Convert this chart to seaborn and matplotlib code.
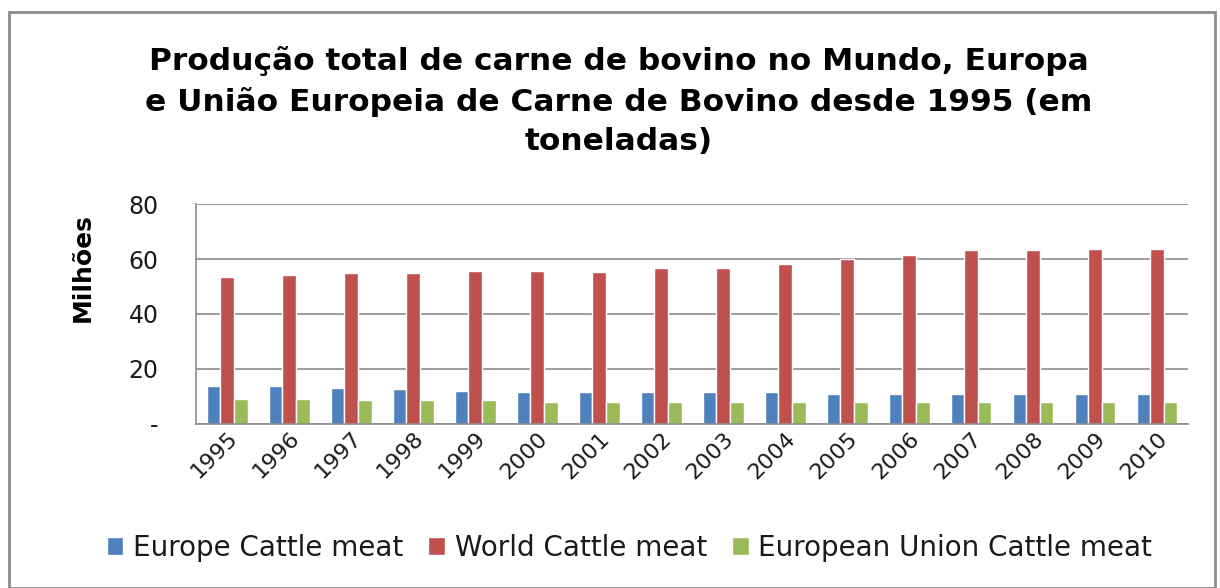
import matplotlib
matplotlib.use("Agg")
import matplotlib.pyplot as plt
import pandas as pd
import seaborn as sns
from matplotlib.patches import Rectangle

years = [str(y) for y in range(1995, 2011)]
europe = [13.7, 13.7, 13.1, 12.6, 12.0, 11.5, 11.5, 11.5, 11.5, 11.5, 10.9, 10.9, 10.9, 10.9, 10.9, 10.9]
world = [53.5, 54.3, 54.8, 54.8, 55.8, 55.8, 55.4, 56.9, 56.9, 58.1, 60.0, 61.6, 63.2, 63.2, 63.8, 63.8]
eu = [9.2, 9.2, 8.6, 8.6, 8.6, 8.0, 8.0, 8.0, 7.9, 7.9, 7.9, 7.9, 7.9, 7.9, 7.9, 7.9]
series = ["Europe Cattle meat", "World Cattle meat", "European Union Cattle meat"]
colors = ["#4F81BD", "#C0504D", "#9BBB59"]

df = pd.DataFrame({
    "Ano": years * 3,
    "Valor": europe + world + eu,
    "Serie": [series[0]] * 16 + [series[1]] * 16 + [series[2]] * 16,
})

sns.set_style("white")
plt.rcParams["font.family"] = ["DejaVu Sans"]

fig = plt.figure(figsize=(12.2, 5.88), dpi=100)
ax = fig.add_axes([0.1607, 0.279, 0.8131, 0.374])

sns.barplot(data=df, x="Ano", y="Valor", hue="Serie", palette=colors,
            width=0.66, gap=0, saturation=1, ax=ax, legend=True)

ax.set_ylim(0, 80)
ax.set_yticks([0, 20, 40, 60, 80])
ax.set_yticklabels(["-", "20", "40", "60", "80"], fontsize=17, color="#1a1a1a")
ax.set_xlim(-0.5, 15.5)
ax.set_xticks(range(16))
ax.set_xticklabels(years, rotation=45, ha="right", rotation_mode="anchor",
                   fontsize=16, color="#1a1a1a")
ax.set_xlabel("")
ax.set_ylabel("Milhões", fontsize=18, fontweight="bold", color="black")
ax.yaxis.set_label_coords(-0.102, 0.71)
ax.yaxis.grid(True, color="#8c8c8c", linewidth=1.2)
ax.set_axisbelow(True)
for s in ["top", "right"]:
    ax.spines[s].set_visible(False)
for s in ["left", "bottom"]:
    ax.spines[s].set_color("#8c8c8c")
    ax.spines[s].set_linewidth(1.2)
ax.tick_params(axis="y", length=5, color="#8c8c8c", width=1.2, pad=22)
ax.tick_params(axis="x", length=0, pad=3)

fig.text(0.507, 0.922,
         "Produção total de carne de bovino no Mundo, Europa\ne União Europeia de Carne de Bovino desde 1995 (em\ntoneladas)",
         ha="center", va="top", fontsize=22.5, fontweight="bold", linespacing=1.45,
         color="black")

handles, labels = ax.get_legend_handles_labels()
ax.get_legend().remove()
fig.legend(handles, labels, loc="center", bbox_to_anchor=(0.516, 0.068), ncol=3,
           frameon=False, fontsize=20, handlelength=0.6, handleheight=0.6,
           handletextpad=0.35, columnspacing=0.9, labelcolor="#1a1a1a")

fig.patches.append(Rectangle((0.007, 0.0), 0.989, 0.98, transform=fig.transFigure,
                             fill=False, edgecolor="#8c8c8c", linewidth=2))

fig.savefig("out.png", dpi=100)
